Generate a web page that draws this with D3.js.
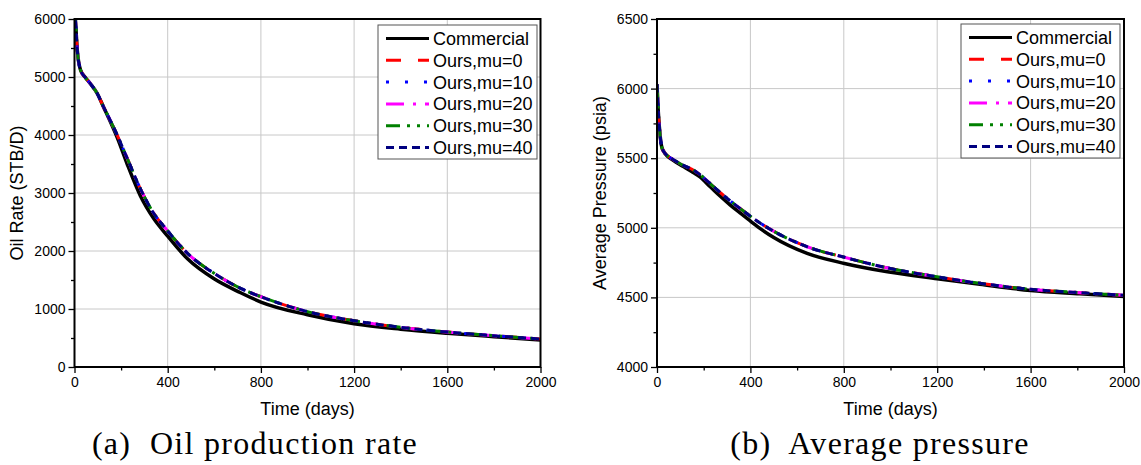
<!DOCTYPE html>
<html>
<head>
<meta charset="utf-8">
<script src="https://cdn.jsdelivr.net/npm/d3@7"></script>
<style>
  body { margin: 0; background: #fff; }
  svg { display: block; }
</style>
</head>
<body>
<div id="chart"></div>
<script>
// Series names and styles
var seriesNames = ["Commercial", "Ours,mu=0", "Ours,mu=10", "Ours,mu=20", "Ours,mu=30", "Ours,mu=40"];
var seriesColors = ["#000000", "#ff0000", "#0000ff", "#ff00ff", "#008000", "#000080"];
var seriesDashes = [null, "15,17", "3,16", "18,9,3,9", "14,7,3,7,3,7", "8,5"];

// (a) Oil production rate, STB/D
var oilDays = [0, 4, 12, 26, 45, 69, 97, 125, 155, 183, 226, 283, 340, 397, 485, 599, 713, 800, 1000, 1200, 1400, 1600, 1800, 2000];
var oilCommercial = [6200, 5980, 5460, 5120, 5000, 4880, 4720, 4480, 4220, 3960, 3500, 2950, 2560, 2270, 1865, 1520, 1280, 1120, 900, 745, 652, 582, 523, 467];
var oilMu0  = [6200, 5980, 5460, 5120, 5000, 4880, 4720, 4480, 4240, 4000, 3600, 3070, 2650, 2360, 1960, 1615, 1356, 1212, 955, 798, 684, 603, 540, 483];
var oilMu10 = [6200, 5980, 5460, 5120, 5000, 4880, 4720, 4480, 4240, 4000, 3600, 3070, 2650, 2360, 1960, 1615, 1356, 1212, 955, 798, 684, 603, 540, 483];
var oilMu20 = [6200, 5980, 5460, 5120, 5000, 4880, 4720, 4480, 4240, 4000, 3600, 3070, 2650, 2360, 1960, 1615, 1356, 1212, 955, 798, 684, 603, 540, 483];
var oilMu30 = [6200, 5980, 5460, 5120, 5000, 4880, 4720, 4480, 4240, 4000, 3600, 3070, 2650, 2360, 1960, 1615, 1356, 1212, 955, 798, 684, 603, 540, 483];
var oilMu40 = [6200, 5980, 5460, 5120, 5000, 4880, 4720, 4480, 4240, 4000, 3600, 3070, 2650, 2360, 1960, 1615, 1356, 1212, 955, 798, 684, 603, 540, 483];

// (b) Average pressure, psia
var presDays = [0, 5, 10, 20, 30, 41, 60, 80, 113, 150, 184, 228, 270, 314, 360, 404, 450, 500, 643, 803, 987, 1200, 1383, 1600, 1811, 2000];
var presCommercial = [6030, 5850, 5726, 5583, 5545, 5520, 5495, 5472, 5440, 5403, 5365, 5295, 5228, 5163, 5101, 5043, 4985, 4930, 4816, 4744, 4684, 4634, 4594, 4550, 4526, 4506];
var presMu0  = [6030, 5850, 5726, 5583, 5545, 5523, 5500, 5480, 5448, 5421, 5382, 5318, 5254, 5193, 5133, 5078, 5025, 4975, 4864, 4788, 4712, 4648, 4601, 4558, 4534, 4515];
var presMu10 = [6030, 5850, 5726, 5583, 5545, 5523, 5500, 5480, 5448, 5421, 5382, 5318, 5254, 5193, 5133, 5078, 5025, 4975, 4864, 4788, 4712, 4648, 4601, 4558, 4534, 4515];
var presMu20 = [6030, 5850, 5726, 5583, 5545, 5523, 5500, 5480, 5448, 5421, 5382, 5318, 5254, 5193, 5133, 5078, 5025, 4975, 4864, 4788, 4712, 4648, 4601, 4558, 4534, 4515];
var presMu30 = [6030, 5850, 5726, 5583, 5545, 5523, 5500, 5480, 5448, 5421, 5382, 5318, 5254, 5193, 5133, 5078, 5025, 4975, 4864, 4788, 4712, 4648, 4601, 4558, 4534, 4515];
var presMu40 = [6030, 5850, 5726, 5583, 5545, 5523, 5500, 5480, 5448, 5421, 5382, 5318, 5254, 5193, 5133, 5078, 5025, 4975, 4864, 4788, 4712, 4648, 4601, 4558, 4534, 4515];

var xTicks = [0, 400, 800, 1200, 1600, 2000];
var oilTicks = [0, 1000, 2000, 3000, 4000, 5000, 6000];
var presTicks = [4000, 4500, 5000, 5500, 6000, 6500];

var svgWidth = 1141;
var svgHeight = 465;
var sansFont = "'Liberation Sans', Arial, sans-serif";

var svg = d3.select("#chart")
  .append("svg")
  .attr("width", svgWidth)
  .attr("height", svgHeight);

svg.append("rect")
  .attr("width", svgWidth)
  .attr("height", svgHeight)
  .attr("fill", "#fff");

function drawPanel(p) {
  var width = p.width, height = p.height;
  var g = svg.append("g")
    .attr("transform", `translate(${p.left}, ${p.top})`);

  var x = d3.scaleLinear().domain([0, 2000]).range([0, width]);
  var y = d3.scaleLinear().domain(p.yDomain).range([height, 0]);

  // grid
  g.append("g")
    .selectAll("line")
    .data(xTicks.slice(1, -1))
    .enter()
    .append("line")
    .attr("x1", d => x(d)).attr("x2", d => x(d))
    .attr("y1", 0).attr("y2", height)
    .attr("stroke", "#c8c8c8").attr("stroke-width", 1);

  g.append("g")
    .selectAll("line")
    .data(p.yTicks.slice(1, -1))
    .enter()
    .append("line")
    .attr("x1", 0).attr("x2", width)
    .attr("y1", d => y(d)).attr("y2", d => y(d))
    .attr("stroke", "#c8c8c8").attr("stroke-width", 1);

  // curves
  var clipId = "clip" + p.name;
  g.append("clipPath").attr("id", clipId)
    .append("rect").attr("width", width).attr("height", height);

  var line = d3.line()
    .x((d, i) => x(p.days[i]))
    .y(d => y(d))
    .curve(d3.curveMonotoneX);

  var curves = g.append("g").attr("clip-path", `url(#${clipId})`);
  p.series.forEach(function(vals, i) {
    curves.append("path")
      .attr("d", line(vals))
      .attr("fill", "none")
      .attr("stroke", seriesColors[i])
      .attr("stroke-width", i === 0 ? 3.5 : 3)
      .attr("stroke-dasharray", seriesDashes[i]);
  });

  // axes
  var fmt = d3.format("d");
  var bottomAxis = d3.axisBottom(x).tickValues(xTicks).tickFormat(fmt).tickSize(6).tickSizeOuter(0).tickPadding(4);
  var bottomMinor = d3.axisBottom(x).tickValues(d3.range(200, 2000, 400)).tickSize(3.5).tickSizeOuter(0).tickFormat("");
  var leftAxis = d3.axisLeft(y).tickValues(p.yTicks).tickFormat(fmt).tickSize(6).tickSizeOuter(0).tickPadding(3);
  var leftMinor = d3.axisLeft(y).tickValues(p.yMinor).tickSize(3.5).tickSizeOuter(0).tickFormat("");

  [[bottomAxis, `translate(0, ${height})`], [bottomMinor, `translate(0, ${height})`],
   [leftAxis, null], [leftMinor, null]].forEach(function(a) {
    var ax = g.append("g").call(a[0]).attr("font-family", null);
    if (a[1]) ax.attr("transform", a[1]);
    ax.select(".domain").remove();
    ax.selectAll("line").attr("stroke", "#000").attr("stroke-width", 1.3);
    ax.selectAll("text")
      .style("font-family", sansFont)
      .style("font-size", "14px")
      .attr("fill", "#000");
  });

  // frame
  g.append("rect")
    .attr("width", width).attr("height", height)
    .attr("fill", "none").attr("stroke", "#000").attr("stroke-width", 2);

  // axis titles
  g.append("text")
    .attr("x", width / 2).attr("y", height + 48)
    .attr("text-anchor", "middle")
    .style("font-family", sansFont)
    .style("font-size", "18px")
    .text("Time (days)");

  g.append("text")
    .attr("transform", `translate(${p.yTitleX}, ${height / 2}) rotate(-90)`)
    .attr("text-anchor", "middle")
    .style("font-family", sansFont)
    .style("font-size", "18px")
    .text(p.yTitle);

  // legend
  var lg = g.append("g").attr("transform", `translate(${p.legendX}, ${p.legendY})`);
  lg.append("rect")
    .attr("width", 159).attr("height", 134)
    .attr("fill", "#fff").attr("stroke", "#555").attr("stroke-width", 1);
  seriesNames.forEach(function(name, i) {
    var ly = 13.5 + i * 21.8;
    lg.append("line")
      .attr("x1", 8).attr("x2", 51)
      .attr("y1", ly).attr("y2", ly)
      .attr("stroke", seriesColors[i])
      .attr("stroke-width", 3)
      .attr("stroke-dasharray", seriesDashes[i]);
    lg.append("text")
      .attr("x", 55).attr("y", ly + 6.5)
      .style("font-family", sansFont)
      .style("font-size", "18px")
      .text(name);
  });

  // caption
  svg.append("text")
    .attr("x", p.captionX).attr("y", 454)
    .attr("text-anchor", "middle")
    .style("font-family", "'Liberation Serif', serif")
    .style("font-size", "32px")
    .style("letter-spacing", "1.3px")
    .style("white-space", "pre")
    .text(p.caption);
}

drawPanel({
  name: "a", left: 74.5, top: 19, width: 466, height: 348,
  yDomain: [0, 6000], yTicks: oilTicks, yMinor: d3.range(500, 6000, 1000),
  days: oilDays,
  series: [oilCommercial, oilMu0, oilMu10, oilMu20, oilMu30, oilMu40],
  yTitle: "Oil Rate (STB/D)", yTitleX: -52,
  legendX: 303.5, legendY: 6,
  caption: "(a)  Oil production rate", captionX: 255
});

drawPanel({
  name: "b", left: 657, top: 19, width: 467, height: 348,
  yDomain: [4000, 6500], yTicks: presTicks, yMinor: d3.range(4250, 6500, 500),
  days: presDays,
  series: [presCommercial, presMu0, presMu10, presMu20, presMu30, presMu40],
  yTitle: "Average Pressure (psia)", yTitleX: -51,
  legendX: 304, legendY: 5,
  caption: "(b)  Average pressure", captionX: 880
});
</script>
</body>
</html>
